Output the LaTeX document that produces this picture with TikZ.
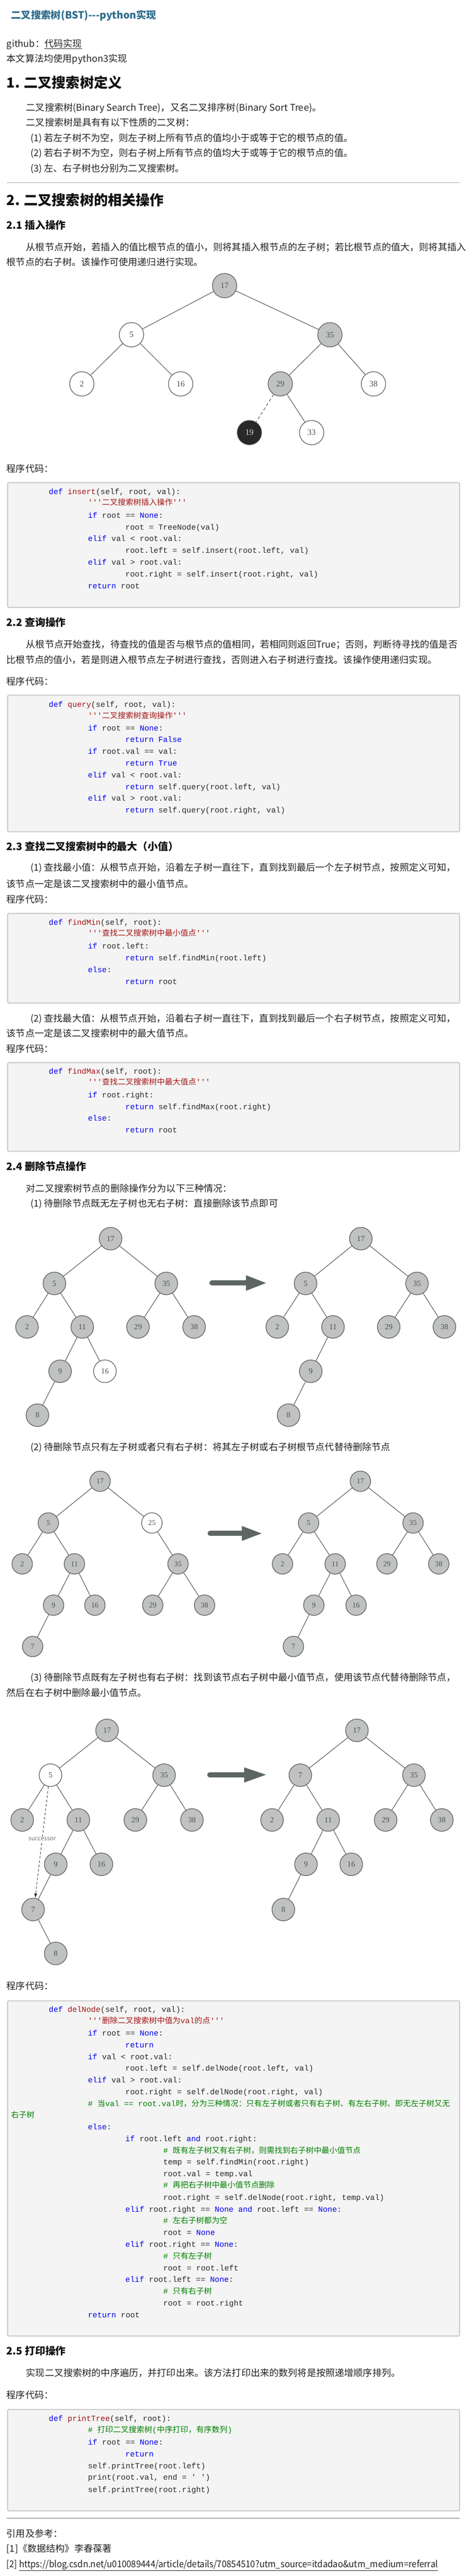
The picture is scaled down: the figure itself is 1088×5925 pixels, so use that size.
\documentclass[tikz,border=0pt]{standalone}
\usepackage{graphicx}
\usepackage{fontspec}
\setmainfont[Ligatures=TeXOff]{Noto Sans CJK SC}
\newfontfamily\codefont[Ligatures=TeXOff]{Liberation Mono}
\newfontfamily\codezh[Ligatures=TeXOff]{Noto Sans CJK SC}
\newfontfamily\digitfont{Liberation Serif}
\usetikzlibrary{arrows.meta}
\definecolor{titleblue}{RGB}{45,108,140}
\definecolor{bodycol}{RGB}{34,34,34}
\definecolor{headcol}{RGB}{17,17,17}
\definecolor{rulecol}{RGB}{170,170,170}
\definecolor{boxfill}{RGB}{244,244,244}
\definecolor{boxline}{RGB}{204,204,204}
\definecolor{kwblue}{RGB}{0,0,238}
\definecolor{fnred}{RGB}{163,21,21}
\definecolor{cmgreen}{RGB}{0,128,0}
\definecolor{codecol}{RGB}{40,40,40}
\definecolor{nodegray}{RGB}{192,194,194}
\definecolor{nodeline}{RGB}{85,85,85}
\definecolor{nodetext}{RGB}{80,80,80}
\definecolor{nodeblack}{RGB}{40,40,40}
\definecolor{fatcol}{RGB}{93,102,100}
\definecolor{succcol}{RGB}{120,120,120}
\newcounter{tln}
\newcommand\tline[4]{\stepcounter{tln}\node[#1] (t\arabic{tln}) at (#2,#3) {#4};}
\newcommand\codeln[3]{\stepcounter{tln}\node[codetxt] (c\arabic{tln}) at (#1,#2) {#3};}
\newcommand\ckw[1]{\textcolor{kwblue}{#1}}
\newcommand\cfn[1]{\textcolor{fnred}{#1}}
\newcommand\ccm[1]{\textcolor{cmgreen}{#1}}
\newcommand\czh[1]{{\codezh #1}}
\tikzset{
  bodytxt/.style={anchor=west, inner sep=0pt, text height=18.9pt, text depth=2.6pt,
    font=\fontsize{21.5}{26}\selectfont, text=bodycol},
  ttl/.style={anchor=west, inner sep=0pt, text height=20.2pt, text depth=2.8pt,
    font=\bfseries\fontsize{23}{27}\selectfont, text=titleblue},
  hone/.style={anchor=west, inner sep=0pt, text height=28.2pt, text depth=3.8pt,
    font=\bfseries\fontsize{32}{36}\selectfont, text=headcol},
  htwo/.style={anchor=west, inner sep=0pt, text height=20.7pt, text depth=2.8pt,
    font=\bfseries\fontsize{23.5}{28}\selectfont, text=headcol},
  codetxt/.style={anchor=west, inner sep=0pt, text height=13.5pt, text depth=2.7pt,
    font=\codefont\fontsize{18}{22}\selectfont, text=codecol},
  codebox/.style={draw=boxline, fill=boxfill, line width=2.5pt, rounded corners=3pt},
  hrule/.style={draw=rulecol, line width=2pt},
  tn/.style={circle, draw=nodeline, line width=1.4pt, inner sep=0pt,
    font=\digitfont\fontsize{19}{19}\selectfont, text=nodetext},
  gn/.style={tn, fill=nodegray},
  wn/.style={tn, fill=white},
  bn/.style={tn, fill=nodeblack, text=white!85!black},
  tedge/.style={draw=nodeline, line width=1.3pt},
  fatarrow/.style={fatcol, line width=12pt, line cap=round},
}
\begin{document}
\begin{tikzpicture}[x=1pt, y=-1pt]
\fill[white] (0,0) rectangle (1088,5925);
\useasboundingbox (0,0) rectangle (1088,5925);

% ---------- header ----------
\tline{ttl}{25}{35}{二叉搜索树(BST)---python实现}
\tline{bodytxt}{15}{100}{github：\underline{代码实现}}
\tline{bodytxt}{15}{135}{本文算法均使用python3实现}
\tline{hone}{15}{190}{1. 二叉搜索树定义}
\tline{bodytxt}{60}{247}{二叉搜索树(Binary Search Tree)，又名二叉排序树(Binary Sort Tree)。}
\tline{bodytxt}{60}{282}{二叉搜索树是具有有以下性质的二叉树：}
\tline{bodytxt}{70}{317}{(1)\ 若左子树不为空，则左子树上所有节点的值均小于或等于它的根节点的值。}
\tline{bodytxt}{70}{352}{(2)\ 若右子树不为空，则右子树上所有节点的值均大于或等于它的根节点的值。}
\tline{bodytxt}{70}{387}{(3)\ 左、右子树也分别为二叉搜索树。}
\draw[hrule] (15,420) -- (1056,420);
\tline{hone}{15}{460}{2. 二叉搜索树的相关操作}

% ---------- 2.1 ----------
\tline{htwo}{15}{518}{2.1 插入操作}
\tline{bodytxt}{60}{568}{从根节点开始，若插入的值比根节点的值小，则将其插入根节点的左子树；若比根节点的值大，则将其插入}
\tline{bodytxt}{15}{603}{根节点的右子树。该操作可使用递归进行实现。}

\begin{scope}[tn/.append style={minimum size=56pt}]
\node[gn] (a17) at (516,657) {17};
\node[wn] (a5) at (302,770) {5};
\node[gn] (a35) at (758,770) {35};
\node[wn] (a2) at (188,883) {2};
\node[wn] (a16) at (415,883) {16};
\node[gn] (a29) at (644,883) {29};
\node[wn] (a38) at (858,883) {38};
\node[bn] (a19) at (573,995) {19};
\node[wn] (a33) at (716,995) {33};
\draw[tedge] (a17) -- (a5);
\draw[tedge] (a17) -- (a35);
\draw[tedge] (a5) -- (a2);
\draw[tedge] (a5) -- (a16);
\draw[tedge] (a35) -- (a29);
\draw[tedge] (a35) -- (a38);
\draw[tedge, dash pattern=on 7pt off 5pt] (a29) -- (a19);
\draw[tedge] (a29) -- (a33);
\end{scope}

\tline{bodytxt}{15}{1078}{程序代码：}
\draw[codebox] (17.5,1110) rectangle (1056,1397);
\codeln{112}{1132}{\ckw{def} \cfn{insert}(self, root, val):}
\codeln{202}{1157}{\cfn{'''\czh{二叉搜索树插入操作}'''}}
\codeln{202}{1186}{\ckw{if} root == \ckw{None}:}
\codeln{288}{1213}{root = TreeNode(val)}
\codeln{202}{1240}{\ckw{elif} val < root.val:}
\codeln{288}{1267}{root.left = self.insert(root.left, val)}
\codeln{202}{1294}{\ckw{elif} val > root.val:}
\codeln{288}{1321}{root.right = self.insert(root.right, val)}
\codeln{202}{1348}{\ckw{return} root}

% ---------- 2.2 ----------
\tline{htwo}{15}{1431}{2.2 查询操作}
\tline{bodytxt}{60}{1482}{从根节点开始查找，待查找的值是否与根节点的值相同，若相同则返回True；否则，判断待寻找的值是否}
\tline{bodytxt}{15}{1517}{比根节点的值小，若是则进入根节点左子树进行查找，否则进入右子树进行查找。该操作使用递归实现。}
\tline{bodytxt}{15}{1567}{程序代码：}
\draw[codebox] (17.5,1599) rectangle (1056,1913);
\codeln{112}{1621}{\ckw{def} \cfn{query}(self, root, val):}
\codeln{202}{1647}{\cfn{'''\czh{二叉搜索树查询操作}'''}}
\codeln{202}{1675}{\ckw{if} root == \ckw{None}:}
\codeln{288}{1702}{\ckw{return False}}
\codeln{202}{1729}{\ckw{if} root.val == val:}
\codeln{288}{1756}{\ckw{return True}}
\codeln{202}{1783}{\ckw{elif} val < root.val:}
\codeln{288}{1810}{\ckw{return} self.query(root.left, val)}
\codeln{202}{1837}{\ckw{elif} val > root.val:}
\codeln{288}{1864}{\ckw{return} self.query(root.right, val)}

% ---------- 2.3 ----------
\tline{htwo}{15}{1947}{2.3 查找二叉搜索树中的最大（小值）}
\tline{bodytxt}{70}{1995}{(1)\ 查找最小值：从根节点开始，沿着左子树一直往下，直到找到最后一个左子树节点，按照定义可知，}
\tline{bodytxt}{15}{2033}{该节点一定是该二叉搜索树中的最小值节点。}
\tline{bodytxt}{15}{2068}{程序代码：}
\draw[codebox] (17.5,2101) rectangle (1056,2307);
\codeln{112}{2122}{\ckw{def} \cfn{findMin}(self, root):}
\codeln{202}{2147}{\cfn{'''\czh{查找二叉搜索树中最小值点}'''}}
\codeln{202}{2177}{\ckw{if} root.left:}
\codeln{288}{2204}{\ckw{return} self.findMin(root.left)}
\codeln{202}{2231}{\ckw{else}:}
\codeln{288}{2258}{\ckw{return} root}

\tline{bodytxt}{70}{2342}{(2)\ 查找最大值：从根节点开始，沿着右子树一直往下，直到找到最后一个右子树节点，按照定义可知，}
\tline{bodytxt}{15}{2377}{该节点一定是该二叉搜索树中的最大值节点。}
\tline{bodytxt}{15}{2412}{程序代码：}
\draw[codebox] (17.5,2444) rectangle (1056,2648);
\codeln{112}{2465}{\ckw{def} \cfn{findMax}(self, root):}
\codeln{202}{2490}{\cfn{'''\czh{查找二叉搜索树中最大值点}'''}}
\codeln{202}{2519}{\ckw{if} root.right:}
\codeln{288}{2546}{\ckw{return} self.findMax(root.right)}
\codeln{202}{2573}{\ckw{else}:}
\codeln{288}{2600}{\ckw{return} root}

% ---------- 2.4 ----------
\tline{htwo}{15}{2683}{2.4 删除节点操作}
\tline{bodytxt}{60}{2733}{对二叉搜索树节点的删除操作分为以下三种情况：}
\tline{bodytxt}{70}{2768}{(1)\ 待删除节点既无左子树也无右子树：直接删除该节点即可}

\begin{scope}[tn/.append style={minimum size=52pt, font=\digitfont\fontsize{18}{18}\selectfont}]
\node[gn] (b17) at (254,2849) {17};
\node[gn] (b5) at (125,2952) {5};
\node[gn] (b35) at (382,2952) {35};
\node[gn] (b2) at (62,3052) {2};
\node[gn] (b11) at (189,3052) {11};
\node[gn] (b29) at (317,3052) {29};
\node[gn] (b38) at (446,3052) {38};
\node[gn] (b9) at (138,3154) {9};
\node[wn] (b16) at (241,3154) {16};
\node[gn] (b8) at (86,3255) {8};
\draw[tedge] (b17) -- (b5);
\draw[tedge] (b17) -- (b35);
\draw[tedge] (b5) -- (b2);
\draw[tedge] (b5) -- (b11);
\draw[tedge] (b35) -- (b29);
\draw[tedge] (b35) -- (b38);
\draw[tedge] (b11) -- (b9);
\draw[tedge] (b11) -- (b16);
\draw[tedge] (b9) -- (b8);
\node[gn] (c17) at (829,2849) {17};
\node[gn] (c5) at (702,2952) {5};
\node[gn] (c35) at (958,2952) {35};
\node[gn] (c2) at (637,3052) {2};
\node[gn] (c11) at (765,3052) {11};
\node[gn] (c29) at (893,3052) {29};
\node[gn] (c38) at (1021,3052) {38};
\node[gn] (c9) at (714,3154) {9};
\node[gn] (c8) at (663,3255) {8};
\draw[tedge] (c17) -- (c5);
\draw[tedge] (c17) -- (c35);
\draw[tedge] (c5) -- (c2);
\draw[tedge] (c5) -- (c11);
\draw[tedge] (c35) -- (c29);
\draw[tedge] (c35) -- (c38);
\draw[tedge] (c11) -- (c9);
\draw[tedge] (c9) -- (c8);
\end{scope}
\fill[fatcol] (565,2933) -- (611,2951) -- (565,2969) -- cycle;
\draw[fatarrow] (487,2951) -- (567,2951);

\tline{bodytxt}{70}{3328}{(2)\ 待删除节点只有左子树或者只有右子树：将其左子树或右子树根节点代替待删除节点}

\begin{scope}[tn/.append style={minimum size=47pt, font=\digitfont\fontsize{17}{17}\selectfont}]
\node[gn] (d17) at (230,3407) {17};
\node[gn] (d5) at (111,3503) {5};
\node[wn] (d25) at (349,3503) {25};
\node[gn] (d2) at (51,3597) {2};
\node[gn] (d11) at (171,3597) {11};
\node[gn] (d35) at (409,3597) {35};
\node[gn] (d9) at (123,3692) {9};
\node[gn] (d16) at (218,3692) {16};
\node[gn] (d29) at (351,3692) {29};
\node[gn] (d38) at (470,3692) {38};
\node[gn] (d7) at (75,3787) {7};
\draw[tedge] (d17) -- (d5);
\draw[tedge] (d17) -- (d25);
\draw[tedge] (d5) -- (d2);
\draw[tedge] (d5) -- (d11);
\draw[tedge] (d11) -- (d9);
\draw[tedge] (d11) -- (d16);
\draw[tedge] (d9) -- (d7);
\draw[tedge] (d25) -- (d35);
\draw[tedge] (d35) -- (d29);
\draw[tedge] (d35) -- (d38);
\node[gn] (e17) at (828,3407) {17};
\node[gn] (e5) at (709,3503) {5};
\node[gn] (e35) at (949,3503) {35};
\node[gn] (e2) at (649,3597) {2};
\node[gn] (e11) at (770,3597) {11};
\node[gn] (e29) at (889,3597) {29};
\node[gn] (e38) at (1008,3597) {38};
\node[gn] (e9) at (721,3692) {9};
\node[gn] (e16) at (818,3692) {16};
\node[gn] (e7) at (674,3787) {7};
\draw[tedge] (e17) -- (e5);
\draw[tedge] (e17) -- (e35);
\draw[tedge] (e5) -- (e2);
\draw[tedge] (e5) -- (e11);
\draw[tedge] (e11) -- (e9);
\draw[tedge] (e11) -- (e16);
\draw[tedge] (e9) -- (e7);
\draw[tedge] (e35) -- (e29);
\draw[tedge] (e35) -- (e38);
\end{scope}
\fill[fatcol] (556,3510) -- (601,3527) -- (556,3544) -- cycle;
\draw[fatarrow] (483,3527) -- (558,3527);

\tline{bodytxt}{70}{3858}{(3)\ 待删除节点既有左子树也有右子树：找到该节点右子树中最小值节点，使用该节点代替待删除节点，}
\tline{bodytxt}{15}{3893}{然后在右子树中删除最小值节点。}

\begin{scope}[tn/.append style={minimum size=52pt, font=\digitfont\fontsize{18}{18}\selectfont}]
\node[gn] (f17) at (246,3980) {17};
\node[wn] (f5) at (116,4083) {5};
\node[gn] (f35) at (377,4083) {35};
\node[gn] (f2) at (51,4186) {2};
\node[gn] (f11) at (180,4186) {11};
\node[gn] (f29) at (311,4186) {29};
\node[gn] (f38) at (441,4186) {38};
\node[gn] (f9) at (128,4288) {9};
\node[gn] (f16) at (233,4288) {16};
\node[gn] (f7) at (76,4392) {7};
\node[gn] (f8) at (128,4493) {8};
\draw[tedge] (f17) -- (f5);
\draw[tedge] (f17) -- (f35);
\draw[tedge] (f5) -- (f2);
\draw[tedge] (f5) -- (f11);
\draw[tedge] (f11) -- (f9);
\draw[tedge] (f11) -- (f16);
\draw[tedge] (f9) -- (f7);
\draw[tedge] (f7) -- (f8);
\draw[tedge] (f35) -- (f29);
\draw[tedge] (f35) -- (f38);
\draw[black!85, line width=0.9pt, dash pattern=on 6pt off 4pt, -{Latex[length=10pt,width=7pt]}]
  ([xshift=-5pt]f5.south) -- node[pos=0.47, fill=white, inner sep=1.5pt, text=succcol,
  font=\fontsize{14}{16}\selectfont] (succ) {successor} ([xshift=5pt]f7.north);
\node[gn] (g17) at (820,3980) {17};
\node[gn] (g7) at (690,4083) {7};
\node[gn] (g35) at (951,4083) {35};
\node[gn] (g2) at (625,4186) {2};
\node[gn] (g11) at (754,4186) {11};
\node[gn] (g29) at (886,4186) {29};
\node[gn] (g38) at (1015,4186) {38};
\node[gn] (g9) at (703,4288) {9};
\node[gn] (g16) at (807,4288) {16};
\node[gn] (g8) at (651,4392) {8};
\draw[tedge] (g17) -- (g7);
\draw[tedge] (g17) -- (g35);
\draw[tedge] (g7) -- (g2);
\draw[tedge] (g7) -- (g11);
\draw[tedge] (g11) -- (g9);
\draw[tedge] (g11) -- (g16);
\draw[tedge] (g9) -- (g8);
\draw[tedge] (g35) -- (g29);
\draw[tedge] (g35) -- (g38);
\end{scope}
\fill[fatcol] (561,4065) -- (611,4082) -- (561,4100) -- cycle;
\draw[fatarrow] (482,4082) -- (563,4082);

\tline{bodytxt}{15}{4568}{程序代码：}
\draw[codebox] (17.5,4602) rectangle (1056,5373);
\codeln{112}{4623}{\ckw{def} \cfn{delNode}(self, root, val):}
\codeln{202}{4649}{\cfn{'''\czh{删除二叉搜索树中值为}val\czh{的点}'''}}
\codeln{202}{4677}{\ckw{if} root == \ckw{None}:}
\codeln{288}{4704}{\ckw{return}}
\codeln{202}{4731}{\ckw{if} val < root.val:}
\codeln{288}{4758}{root.left = self.delNode(root.left, val)}
\codeln{202}{4785}{\ckw{elif} val > root.val:}
\codeln{288}{4812}{root.right = self.delNode(root.right, val)}
\codeln{202}{4839}{\ccm{\# \czh{当}val == root.val\czh{时，分为三种情况：只有左子树或者只有右子树、有左右子树、即无左子树又无}}}
\codeln{25}{4866}{\ccm{\czh{右子树}}}
\codeln{202}{4893}{\ckw{else}:}
\codeln{288}{4920}{\ckw{if} root.left \ckw{and} root.right:}
\codeln{375}{4947}{\ccm{\# \czh{既有左子树又有右子树，则需找到右子树中最小值节点}}}
\codeln{375}{4973}{temp = self.findMin(root.right)}
\codeln{375}{5000}{root.val = temp.val}
\codeln{375}{5027}{\ccm{\# \czh{再把右子树中最小值节点删除}}}
\codeln{375}{5055}{root.right = self.delNode(root.right, temp.val)}
\codeln{288}{5082}{\ckw{elif} root.right == \ckw{None} \ckw{and} root.left == \ckw{None}:}
\codeln{375}{5108}{\ccm{\# \czh{左右子树都为空}}}
\codeln{375}{5136}{root = \ckw{None}}
\codeln{288}{5163}{\ckw{elif} root.right == \ckw{None}:}
\codeln{375}{5190}{\ccm{\# \czh{只有左子树}}}
\codeln{375}{5217}{root = root.left}
\codeln{288}{5244}{\ckw{elif} root.left == \ckw{None}:}
\codeln{375}{5271}{\ccm{\# \czh{只有右子树}}}
\codeln{375}{5298}{root = root.right}
\codeln{202}{5325}{\ckw{return} root}

% ---------- 2.5 ----------
\tline{htwo}{15}{5407}{2.5 打印操作}
\tline{bodytxt}{60}{5458}{实现二叉搜索树的中序遍历，并打印出来。该方法打印出来的数列将是按照递增顺序排列。}
\tline{bodytxt}{15}{5508}{程序代码：}
\draw[codebox] (17.5,5542) rectangle (1056,5775);
\codeln{112}{5563}{\ckw{def} \cfn{printTree}(self, root):}
\codeln{202}{5590}{\ccm{\# \czh{打印二叉搜索树}(\czh{中序打印，有序数列})}}
\codeln{202}{5618}{\ckw{if} root == \ckw{None}:}
\codeln{288}{5645}{\ckw{return}}
\codeln{202}{5672}{self.printTree(root.left)}
\codeln{202}{5699}{print(root.val, end = ' ')}
\codeln{202}{5727}{self.printTree(root.right)}

\draw[hrule] (15,5792) -- (1056,5792);
\tline{bodytxt}{15}{5827}{引用及参考：}
\tline{bodytxt}{15}{5862}{[1]《数据结构》李春葆著}
\tline{bodytxt}{15}{5897}{\scalebox{0.92}[1]{[2] \underline{https://blog.csdn.net/u010089444/article/details/70854510?utm\_source=itdadao\&utm\_medium=referral}}}
\end{tikzpicture}
\end{document}
